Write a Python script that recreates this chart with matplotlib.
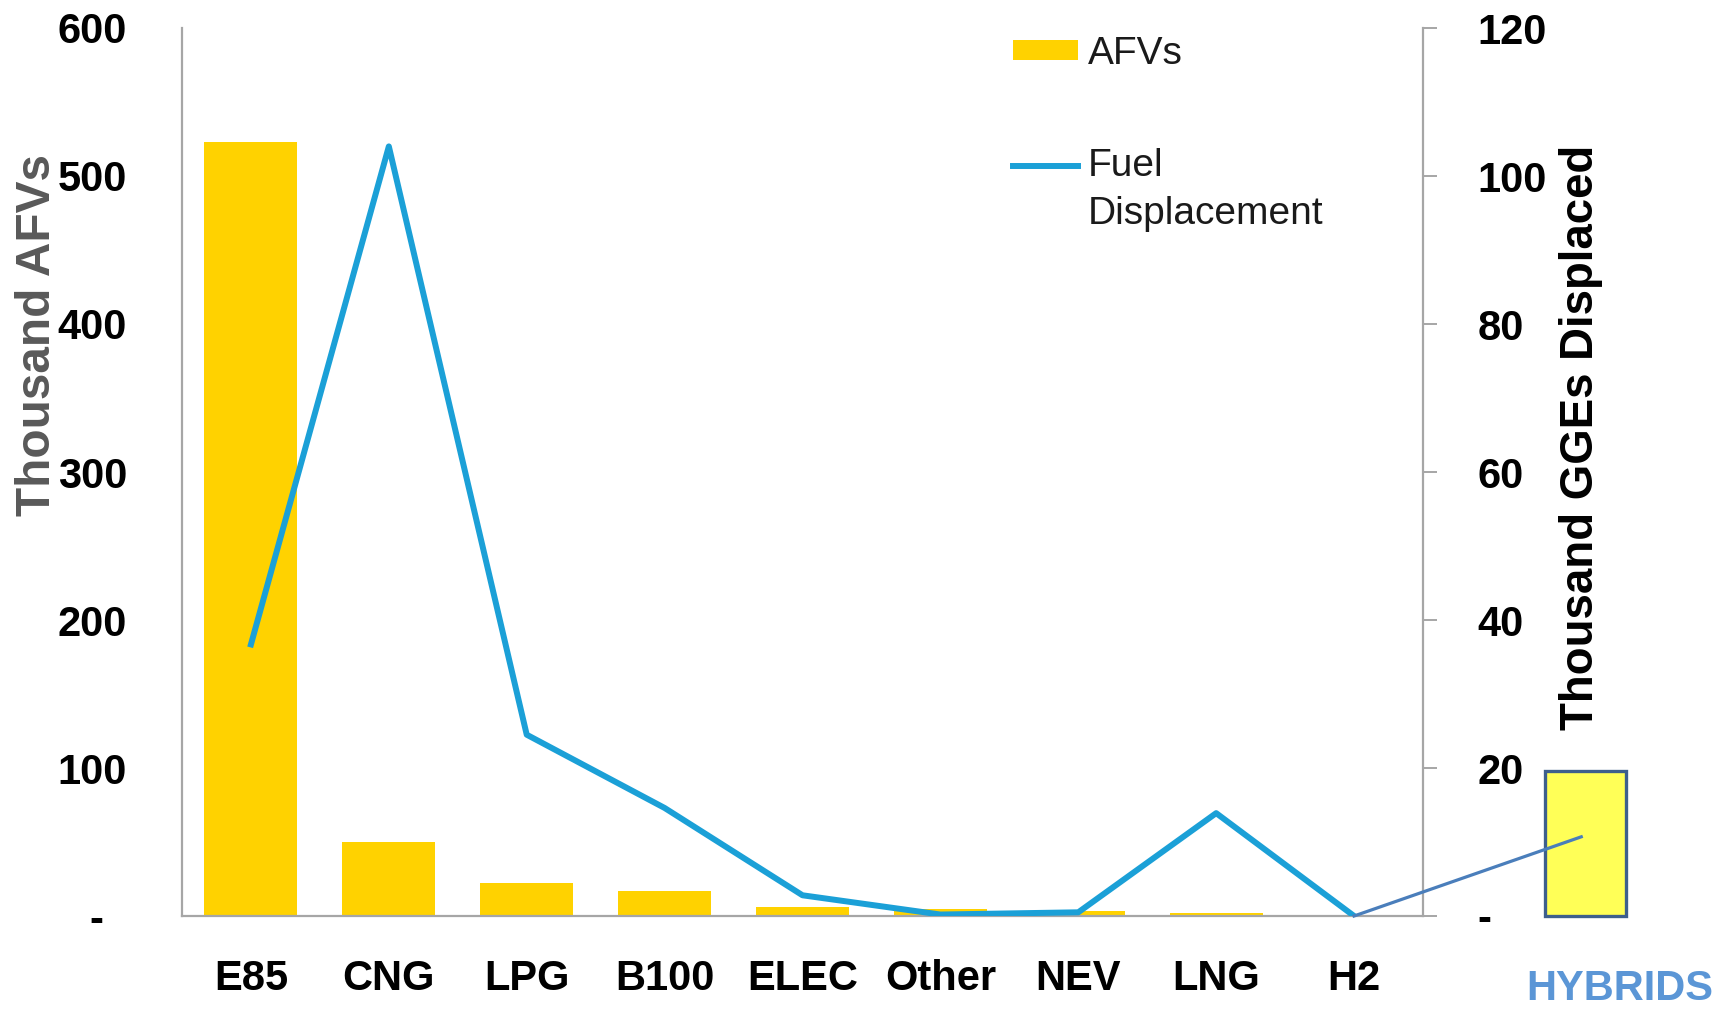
import numpy as np
import matplotlib
matplotlib.use("Agg")
import matplotlib.pyplot as plt
from matplotlib.patches import Rectangle
from matplotlib.ticker import FuncFormatter
from matplotlib.legend_handler import HandlerLine2D

# ---- data ----
categories = ["E85", "CNG", "LPG", "B100", "ELEC", "Other", "NEV", "LNG", "H2"]
afvs_thousand = [523, 50, 22, 17, 6, 5, 3.4, 2, 0]           # left axis (Thousand AFVs)
fuel_displaced = [36.7, 104, 24.5, 14.6, 2.8, 0.2, 0.5, 13.9, 0]  # right axis (Thousand GGEs)
left_ticks = [0, 100, 200, 300, 400, 500, 600]
right_ticks = [0, 20, 40, 60, 80, 100, 120]
hybrids_label = "HYBRIDS"
hybrids_value = 19.6      # height of the hybrids call-out box (right-axis units)
hybrids_link_value = 10.7  # where the connector meets the box (right-axis units)

BAR_C = "#FFD200"
LINE_C = "#1BA0D7"
SPINE_C = "#A6A6A6"

plt.rcParams["font.family"] = ["Liberation Sans", "DejaVu Sans"]

fig = plt.figure(figsize=(17.34, 10.10), dpi=100)
ax = fig.add_axes([182/1734, 1-916/1010, (1423-182)/1734, (916-28)/1010])
ax2 = ax.twinx()

x = np.arange(len(categories))
bars = ax.bar(x, afvs_thousand, width=0.674, color=BAR_C, zorder=2, label="AFVs")
line, = ax2.plot(x, fuel_displaced, color=LINE_C, lw=4.3, solid_joinstyle="round",
                 zorder=3, label="Fuel\nDisplacement")

ax.set_xlim(-0.5, len(categories) - 0.5)
ax.set_ylim(left_ticks[0], left_ticks[-1])
ax2.set_ylim(right_ticks[0], right_ticks[-1])
ax.set_yticks(left_ticks)
ax2.set_yticks(right_ticks)
ax.set_xticks(x)
ax.set_xticklabels(categories)

ax.yaxis.set_major_formatter(FuncFormatter(lambda v, p: "-  " if v == 0 else f"{v:.0f}"))
ax2.yaxis.set_major_formatter(FuncFormatter(lambda v, p: "-" if v == 0 else f"{v:.0f}"))

for a in (ax, ax2):
    a.spines["top"].set_visible(False)
    for s in a.spines.values():
        s.set_color(SPINE_C)
        s.set_linewidth(1.6)
ax.spines["right"].set_visible(False)
ax2.spines["left"].set_visible(False)
ax2.spines["bottom"].set_visible(False)

ax.tick_params(axis="y", length=0, pad=39.5, labelsize=30, labelcolor="black")
ax.tick_params(axis="x", length=0, pad=31, labelsize=30, labelcolor="black")
ax2.tick_params(axis="y", length=10, width=1.4, color=SPINE_C, direction="out",
                pad=29.5, labelsize=30, labelcolor="black")
for lab in ax.get_yticklabels() + ax.get_xticklabels() + ax2.get_yticklabels():
    lab.set_fontweight("bold")

ax.set_ylabel("Thousand AFVs", fontsize=34.4, fontweight="bold", color="#595959",
              ha="center", va="center")
ax.yaxis.set_label_coords(-0.1166, 0.6543)
ax2.set_ylabel("Thousand GGEs Displaced", fontsize=32.9, fontweight="bold", color="black",
               ha="center", va="center", rotation=90)
ax2.yaxis.set_label_coords(1.1277, 0.5394)

# Hybrids call-out (outside the plotting area)
box_x0, box_w = 9.384, 0.586
ax2.add_patch(Rectangle((box_x0, 0), box_w, hybrids_value, facecolor="#FFFF57",
                        edgecolor="#3D5F8C", lw=2.4, clip_on=False, zorder=4))
ax2.plot([x[-1], box_x0 + box_w * 0.45], [fuel_displaced[-1], hybrids_link_value],
         color="#4A7EBB", lw=2.3, clip_on=False, zorder=5)
fig.text(1620/1734, 1-989/1010, hybrids_label, color="#5B96D6", fontsize=30,
         fontweight="bold", ha="center", va="center")


class RaisedLine(HandlerLine2D):
    def __init__(self, raise_pt, **kw):
        super().__init__(**kw)
        self.raise_pt = raise_pt

    def create_artists(self, legend, orig_handle, xdescent, ydescent, width, height,
                       fontsize, trans):
        arts = super().create_artists(legend, orig_handle, xdescent, ydescent, width,
                                      height, fontsize, trans)
        for a in arts:
            a.set_ydata(np.asarray(a.get_ydata()) + self.raise_pt)
        return arts


leg = fig.legend([bars, line], ["AFVs", "Fuel\nDisplacement"], loc="upper left",
                 bbox_to_anchor=(1013/1734, 1-36/1010), frameon=False, fontsize=28,
                 handlelength=1.67, handleheight=0.44, handletextpad=0.25,
                 labelspacing=1.96, borderpad=0, borderaxespad=0,
                 handler_map={line: RaisedLine(19.1)})
for t in leg.get_texts():
    t.set_color("#1a1a1a")
    t.set_linespacing(1.43)

fig.savefig("out.png", dpi=100)
